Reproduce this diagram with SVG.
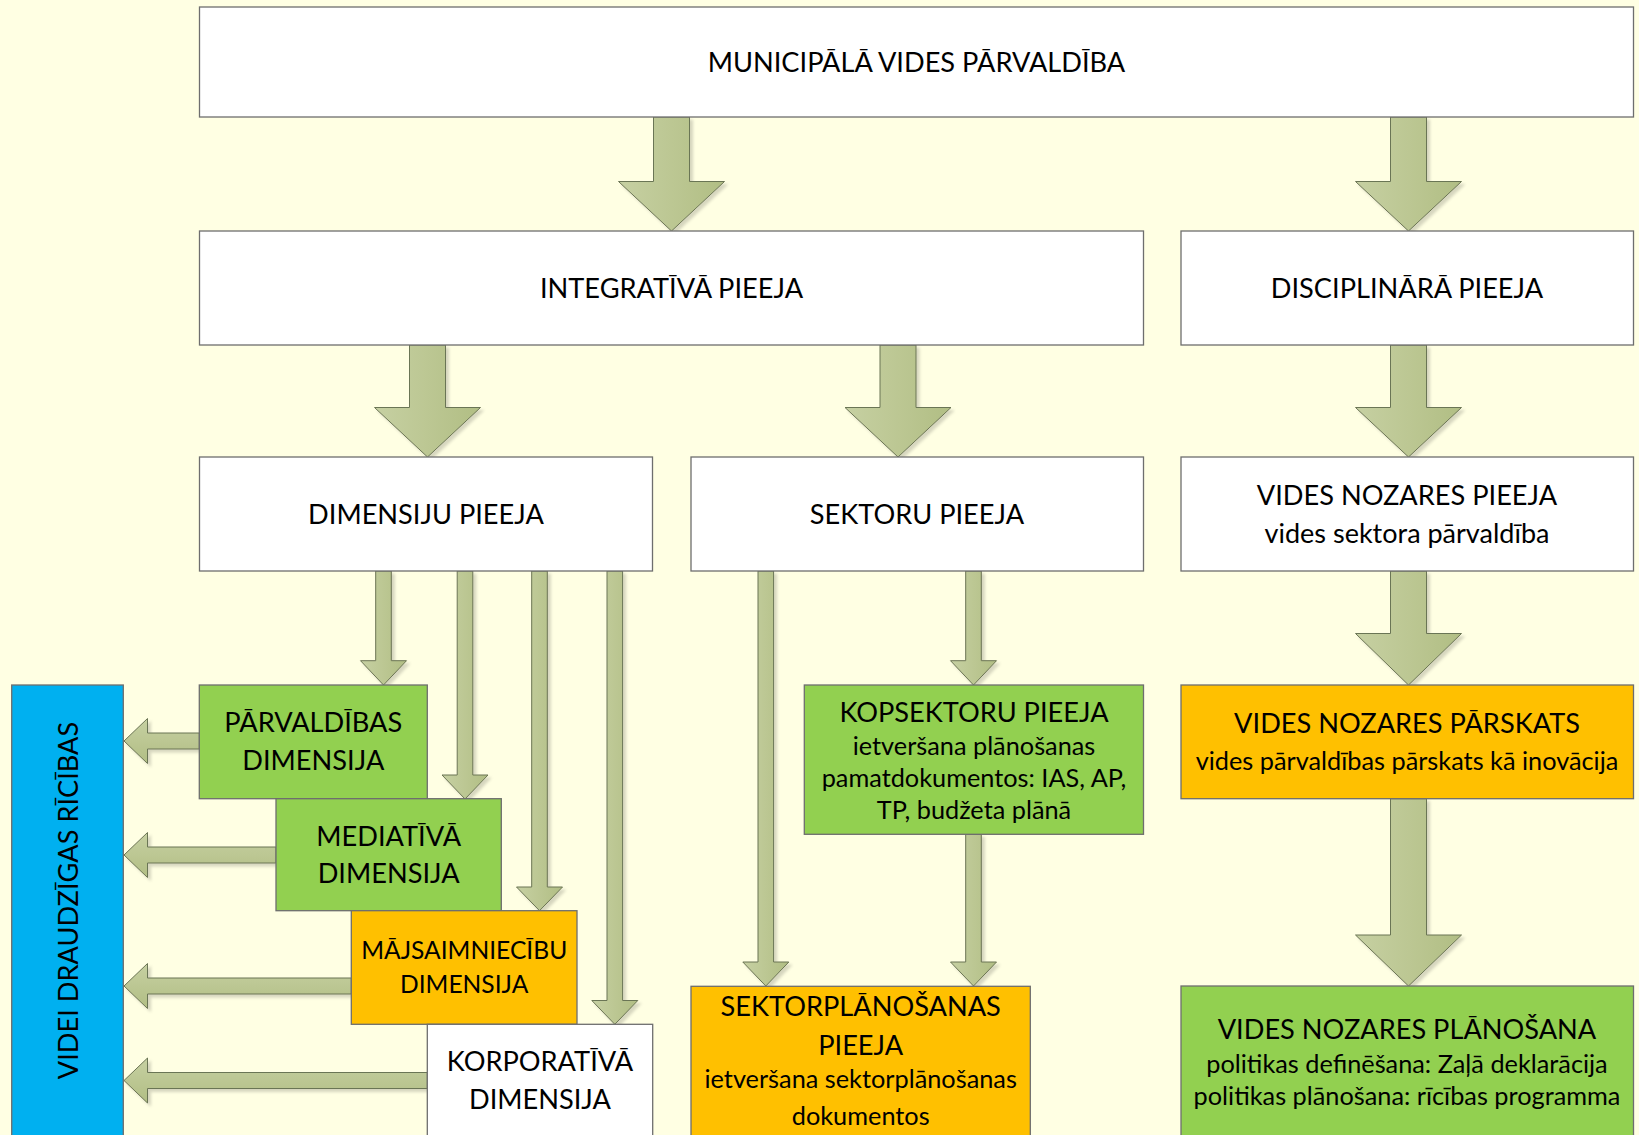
<svg xmlns="http://www.w3.org/2000/svg" width="1639" height="1135" viewBox="0 0 1639 1135">
<defs>
<linearGradient id="gv" x1="0" y1="0" x2="1" y2="0">
<stop offset="0" stop-color="#C6D0A2"/>
<stop offset="0.5" stop-color="#BCC793"/>
<stop offset="1" stop-color="#B1BE84"/>
</linearGradient>
<linearGradient id="gh" x1="0" y1="0" x2="0" y2="1">
<stop offset="0" stop-color="#C6D0A2"/>
<stop offset="0.5" stop-color="#BCC793"/>
<stop offset="1" stop-color="#B1BE84"/>
</linearGradient>
<filter id="sh" x="-20%" y="-20%" width="140%" height="140%">
<feDropShadow dx="3" dy="3" stdDeviation="1.5" flood-color="#000" flood-opacity="0.16"/>
</filter>
</defs>
<style>
.box{stroke:#6E6E6E;stroke-width:1.3}
.w{fill:#FFFFFF}.g{fill:#92D050}.o{fill:#FFC000}.b{fill:#00B0F0}
.ad{fill:url(#gv);stroke:#6B7454;stroke-width:1}
.al{fill:url(#gh);stroke:#6B7454;stroke-width:1}
text{font-family:Lato,"Liberation Sans",sans-serif;fill:#000;text-anchor:middle}
.h{font-size:27.2px}
.m{font-size:24.6px}
.s{font-size:25.3px}
.s2{font-size:27px}
</style>
<rect x="0" y="0" width="1639" height="1135" fill="#FFFFE3"/>

<g id="connectors" filter="url(#sh)">
<path class="ad" d="M653.5,117 H689.5 V181.5 H724.5 L671.5,231 L618.5,181.5 H653.5 Z"/>
<path class="ad" d="M1390.5,117 H1426.5 V181.5 H1461.5 L1408.5,231 L1355.5,181.5 H1390.5 Z"/>
<path class="ad" d="M409.5,345 H445.5 V407.5 H480.5 L427.5,457 L374.5,407.5 H409.5 Z"/>
<path class="ad" d="M880,345 H916 V407.5 H951 L898,457 L845,407.5 H880 Z"/>
<path class="ad" d="M1390.5,345 H1426.5 V407.5 H1461.5 L1408.5,457 L1355.5,407.5 H1390.5 Z"/>
<path class="ad" d="M1390.5,571 H1426.5 V633.5 H1461.5 L1408.5,685 L1355.5,633.5 H1390.5 Z"/>
<path class="ad" d="M1390.5,798.7 H1426.5 V935 H1461.5 L1408.5,986 L1355.5,935 H1390.5 Z"/>
<path class="ad" d="M375.7,571 H391.3 V660.7 H406.5 L383.5,685 L360.5,660.7 H375.7 Z"/>
<path class="ad" d="M457.2,571 H472.8 V775 H488 L465,799 L442,775 H457.2 Z"/>
<path class="ad" d="M531.7,571 H547.3 V887 H562.5 L539.5,910.7 L516.5,887 H531.7 Z"/>
<path class="ad" d="M607,571 H622.6 V1000.5 H637.8 L614.8,1024.3 L591.8,1000.5 H607 Z"/>
<path class="ad" d="M758,571 H773.6 V962 H788.8 L765.8,986 L742.8,962 H758 Z"/>
<path class="ad" d="M965.7,571 H981.3 V660.7 H996.5 L973.5,685 L950.5,660.7 H965.7 Z"/>
<path class="ad" d="M965.7,834.3 H981.3 V962 H996.5 L973.5,986 L950.5,962 H965.7 Z"/>
<path class="al" d="M199.3,733 V749 H147.5 V763.5 L124,741 L147.5,718.5 V733 Z"/>
<path class="al" d="M276,847 V863 H147.5 V877.5 L124,855 L147.5,832.5 V847 Z"/>
<path class="al" d="M351.3,978 V994 H147.5 V1008.5 L124,986 L147.5,963.5 V978 Z"/>
<path class="al" d="M427.3,1072.5 V1088.5 H147.5 V1103 L124,1080.5 L147.5,1058 V1072.5 Z"/>
</g>

<g id="n-municipala">
<rect class="box w" x="199.5" y="7" width="1434" height="110"/>
<text class="h" x="916.5" y="72">MUNICIPĀLĀ VIDES PĀRVALDĪBA</text>
</g>
<g id="n-integrativa">
<rect class="box w" x="199.5" y="231" width="944" height="114"/>
<text class="h" x="671.5" y="298">INTEGRATĪVĀ PIEEJA</text>
</g>
<g id="n-disciplinara">
<rect class="box w" x="1181" y="231" width="452.5" height="114"/>
<text class="h" x="1407" y="298">DISCIPLINĀRĀ PIEEJA</text>
</g>
<g id="n-dimensiju">
<rect class="box w" x="199.5" y="457" width="453" height="114"/>
<text class="h" x="426" y="524">DIMENSIJU PIEEJA</text>
</g>
<g id="n-sektoru">
<rect class="box w" x="691" y="457" width="452.5" height="114"/>
<text class="h" x="917" y="524">SEKTORU PIEEJA</text>
</g>
<g id="n-vides-pieeja">
<rect class="box w" x="1181" y="457" width="452.5" height="114"/>
<text class="h" x="1407" y="504.5">VIDES NOZARES PIEEJA</text>
<text class="s2" x="1407" y="542.5">vides sektora pārvaldība</text>
</g>
<g id="n-videi">
<rect class="box b" x="11.7" y="685" width="111.6" height="460"/>
<text class="h" transform="translate(78.3,900.5) rotate(-90)">VIDEI DRAUDZĪGAS RĪCĪBAS</text>
</g>
<g id="n-parvaldibas">
<rect class="box g" x="199.3" y="685" width="228" height="113.7"/>
<text class="h" x="313.3" y="732">PĀRVALDĪBAS</text>
<text class="h" x="313.3" y="769.5">DIMENSIJA</text>
</g>
<g id="n-mediativa">
<rect class="box g" x="276" y="798.7" width="225.3" height="112"/>
<text class="h" x="388.7" y="845.5">MEDIATĪVĀ</text>
<text class="h" x="388.7" y="882.5">DIMENSIJA</text>
</g>
<g id="n-majsaimniecibu">
<rect class="box o" x="351.3" y="910.7" width="225.7" height="113.6"/>
<text class="m" x="464.2" y="959">MĀJSAIMNIECĪBU</text>
<text class="m" x="464.2" y="993.3">DIMENSIJA</text>
</g>
<g id="n-korporativa">
<rect class="box w" x="427.3" y="1024.3" width="225.4" height="120"/>
<text class="h" x="540" y="1070.7">KORPORATĪVĀ</text>
<text class="h" x="540" y="1109.3">DIMENSIJA</text>
</g>
<g id="n-kopsektoru">
<rect class="box g" x="804.3" y="685" width="339.2" height="149.3"/>
<text class="h" x="974" y="722.3">KOPSEKTORU PIEEJA</text>
<text class="s" x="974" y="754.5">ietveršana plānošanas</text>
<text class="s" x="974" y="786.5">pamatdokumentos: IAS, AP,</text>
<text class="s" x="974" y="818.5">TP, budžeta plānā</text>
</g>
<g id="n-sektorplanosanas">
<rect class="box o" x="691" y="986.3" width="339.3" height="160"/>
<text class="h" x="860.7" y="1016.3">SEKTORPLĀNOŠANAS</text>
<text class="h" x="860.7" y="1055">PIEEJA</text>
<text class="s" x="860.7" y="1088.3">ietveršana sektorplānošanas</text>
<text class="s" x="860.7" y="1125">dokumentos</text>
</g>
<g id="n-parskats">
<rect class="box o" x="1181" y="685" width="452.5" height="113.7"/>
<text class="h" x="1407" y="733.3">VIDES NOZARES PĀRSKATS</text>
<text class="s" x="1407" y="770">vides pārvaldības pārskats kā inovācija</text>
</g>
<g id="n-planosana">
<rect class="box g" x="1181" y="986" width="452.5" height="160"/>
<text class="h" x="1407" y="1039.3">VIDES NOZARES PLĀNOŠANA</text>
<text class="s" x="1407" y="1072.7">politikas definēšana: Zaļā deklarācija</text>
<text class="s" x="1407" y="1104.5">politikas plānošana: rīcības programma</text>
</g>
</svg>
